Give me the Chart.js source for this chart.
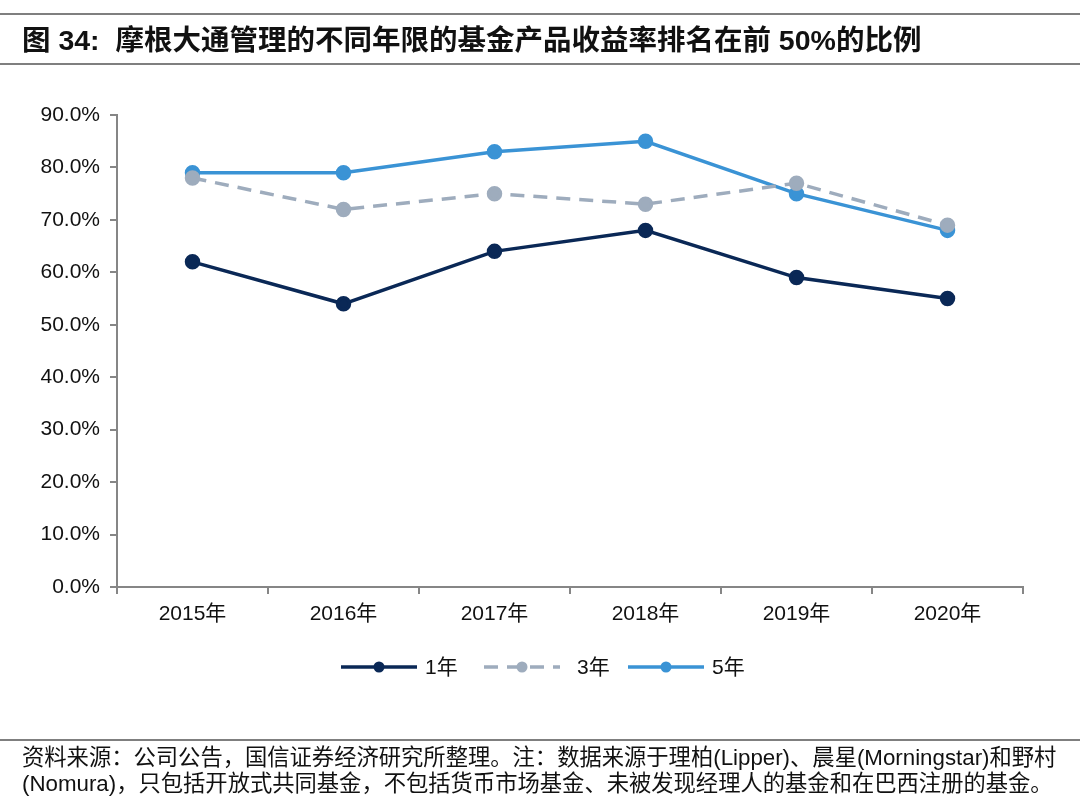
<!DOCTYPE html>
<html>
<head>
<meta charset="utf-8">
<script src="https://cdn.jsdelivr.net/npm/chart.js@4"></script>
<style>
  body { margin: 0; background: #fff; font-family: "Liberation Sans", Arial, "Noto Sans CJK SC", sans-serif; }
  #page { position: relative; width: 1080px; height: 797px; overflow: hidden; }
  #chart-wrap { position: absolute; left: 0; top: 0; width: 1080px; height: 797px; }
  .rule { position: absolute; left: 0; width: 1080px; height: 2px; background: #7f7f7f; }
  #title { position: absolute; left: 22px; top: 22px; font-size: 28.5px; line-height: 36px; font-weight: bold; color: #111; white-space: nowrap; }
  #note { position: absolute; left: 22px; top: 745px; font-size: 22.3px; line-height: 26px; color: #111; white-space: nowrap; }
</style>
</head>
<body>
<div id="page">
  <div id="chart-wrap"><canvas id="myChart" width="1080" height="797"></canvas></div>
  <div class="rule" style="top:13px"></div>
  <div id="title">图 34:&nbsp; 摩根大通管理的不同年限的基金产品收益率排名在前 50%的比例</div>
  <div class="rule" style="top:63px"></div>
  <div class="rule" style="top:739px"></div>
  <div id="note">资料来源：公司公告，国信证券经济研究所整理。注：数据来源于理柏(Lipper)、晨星(Morningstar)和野村<br>(Nomura)，只包括开放式共同基金，不包括货币市场基金、未被发现经理人的基金和在巴西注册的基金。</div>
</div>
<script>
// --- DATA ---
const years = ['2015年', '2016年', '2017年', '2018年', '2019年', '2020年'];
const seriesNames = ['1年', '3年', '5年'];
const oneYear = [62, 54, 64, 68, 59, 55];
const threeYear = [78, 72, 75, 73, 77, 69];
const fiveYear = [79, 79, 83, 85, 75, 68];
const yTicks = [0, 10, 20, 30, 40, 50, 60, 70, 80, 90];

const colors = ['#0a2856', '#9eacbd', '#3a93d5'];
const font = { family: '"Liberation Sans", Arial, "Noto Sans CJK SC", sans-serif', size: 21 };

// custom legend: line + dot + label, drawn from dataset styles
const lineLegend = {
    id: 'lineLegend',
    afterDraw(chart) {
        const ctx = chart.ctx;
        const y = 667;
        const starts = [341, 484, 628];
        chart.data.datasets.forEach((ds, i) => {
            const x0 = starts[i];
            const x1 = x0 + 76;
            ctx.save();
            ctx.strokeStyle = ds.borderColor;
            ctx.lineWidth = ds.borderWidth;
            ctx.setLineDash(ds.borderDash || []);
            ctx.beginPath();
            ctx.moveTo(x0, y);
            ctx.lineTo(x1, y);
            ctx.stroke();
            ctx.setLineDash([]);
            ctx.fillStyle = ds.pointBackgroundColor;
            ctx.beginPath();
            ctx.arc((x0 + x1) / 2, y, 5.5, 0, Math.PI * 2);
            ctx.fill();
            ctx.fillStyle = '#111';
            ctx.font = `${font.size}px ${font.family}`;
            ctx.textBaseline = 'middle';
            ctx.fillText(ds.label, i === 1 ? x1 + 17 : x1 + 8, y + 1);
            ctx.restore();
        });
    }
};

const ctx = document.getElementById('myChart').getContext('2d');
new Chart(ctx, {
    type: 'line',
    data: {
        labels: years,
        datasets: [oneYear, threeYear, fiveYear].map((vals, i) => ({
            label: seriesNames[i],
            data: vals,
            borderColor: colors[i],
            backgroundColor: colors[i],
            pointBackgroundColor: colors[i],
            pointBorderColor: colors[i],
            borderWidth: 3.5,
            borderDash: i === 1 ? [14, 9] : [],
            pointRadius: 6,
            pointHoverRadius: 6,
            tension: 0
        }))
    },
    options: {
        responsive: false,
        animation: false,
        devicePixelRatio: 1,
        layout: { padding: { left: 0, top: 115, right: 57, bottom: 160 } },
        plugins: { legend: { display: false }, tooltip: { enabled: false } },
        scales: {
            x: {
                offset: true,
                grid: { offset: true, drawOnChartArea: false, tickLength: 7, color: '#868686', lineWidth: 2 },
                border: { color: '#868686', width: 2 },
                ticks: { color: '#111', font: font, padding: 8 },
                afterFit(scale) { scale.height = 50; }
            },
            y: {
                min: 0,
                max: 90,
                afterBuildTicks(scale) { scale.ticks = yTicks.map(v => ({ value: v })); },
                grid: { drawOnChartArea: false, tickLength: 7, color: '#868686', lineWidth: 2 },
                border: { color: '#868686', width: 2 },
                ticks: { color: '#111', font: font, padding: 10, callback: v => v.toFixed(1) + '%' },
                afterFit(scale) { scale.width = 117; }
            }
        }
    },
    plugins: [lineLegend]
});
</script>
</body>
</html>
